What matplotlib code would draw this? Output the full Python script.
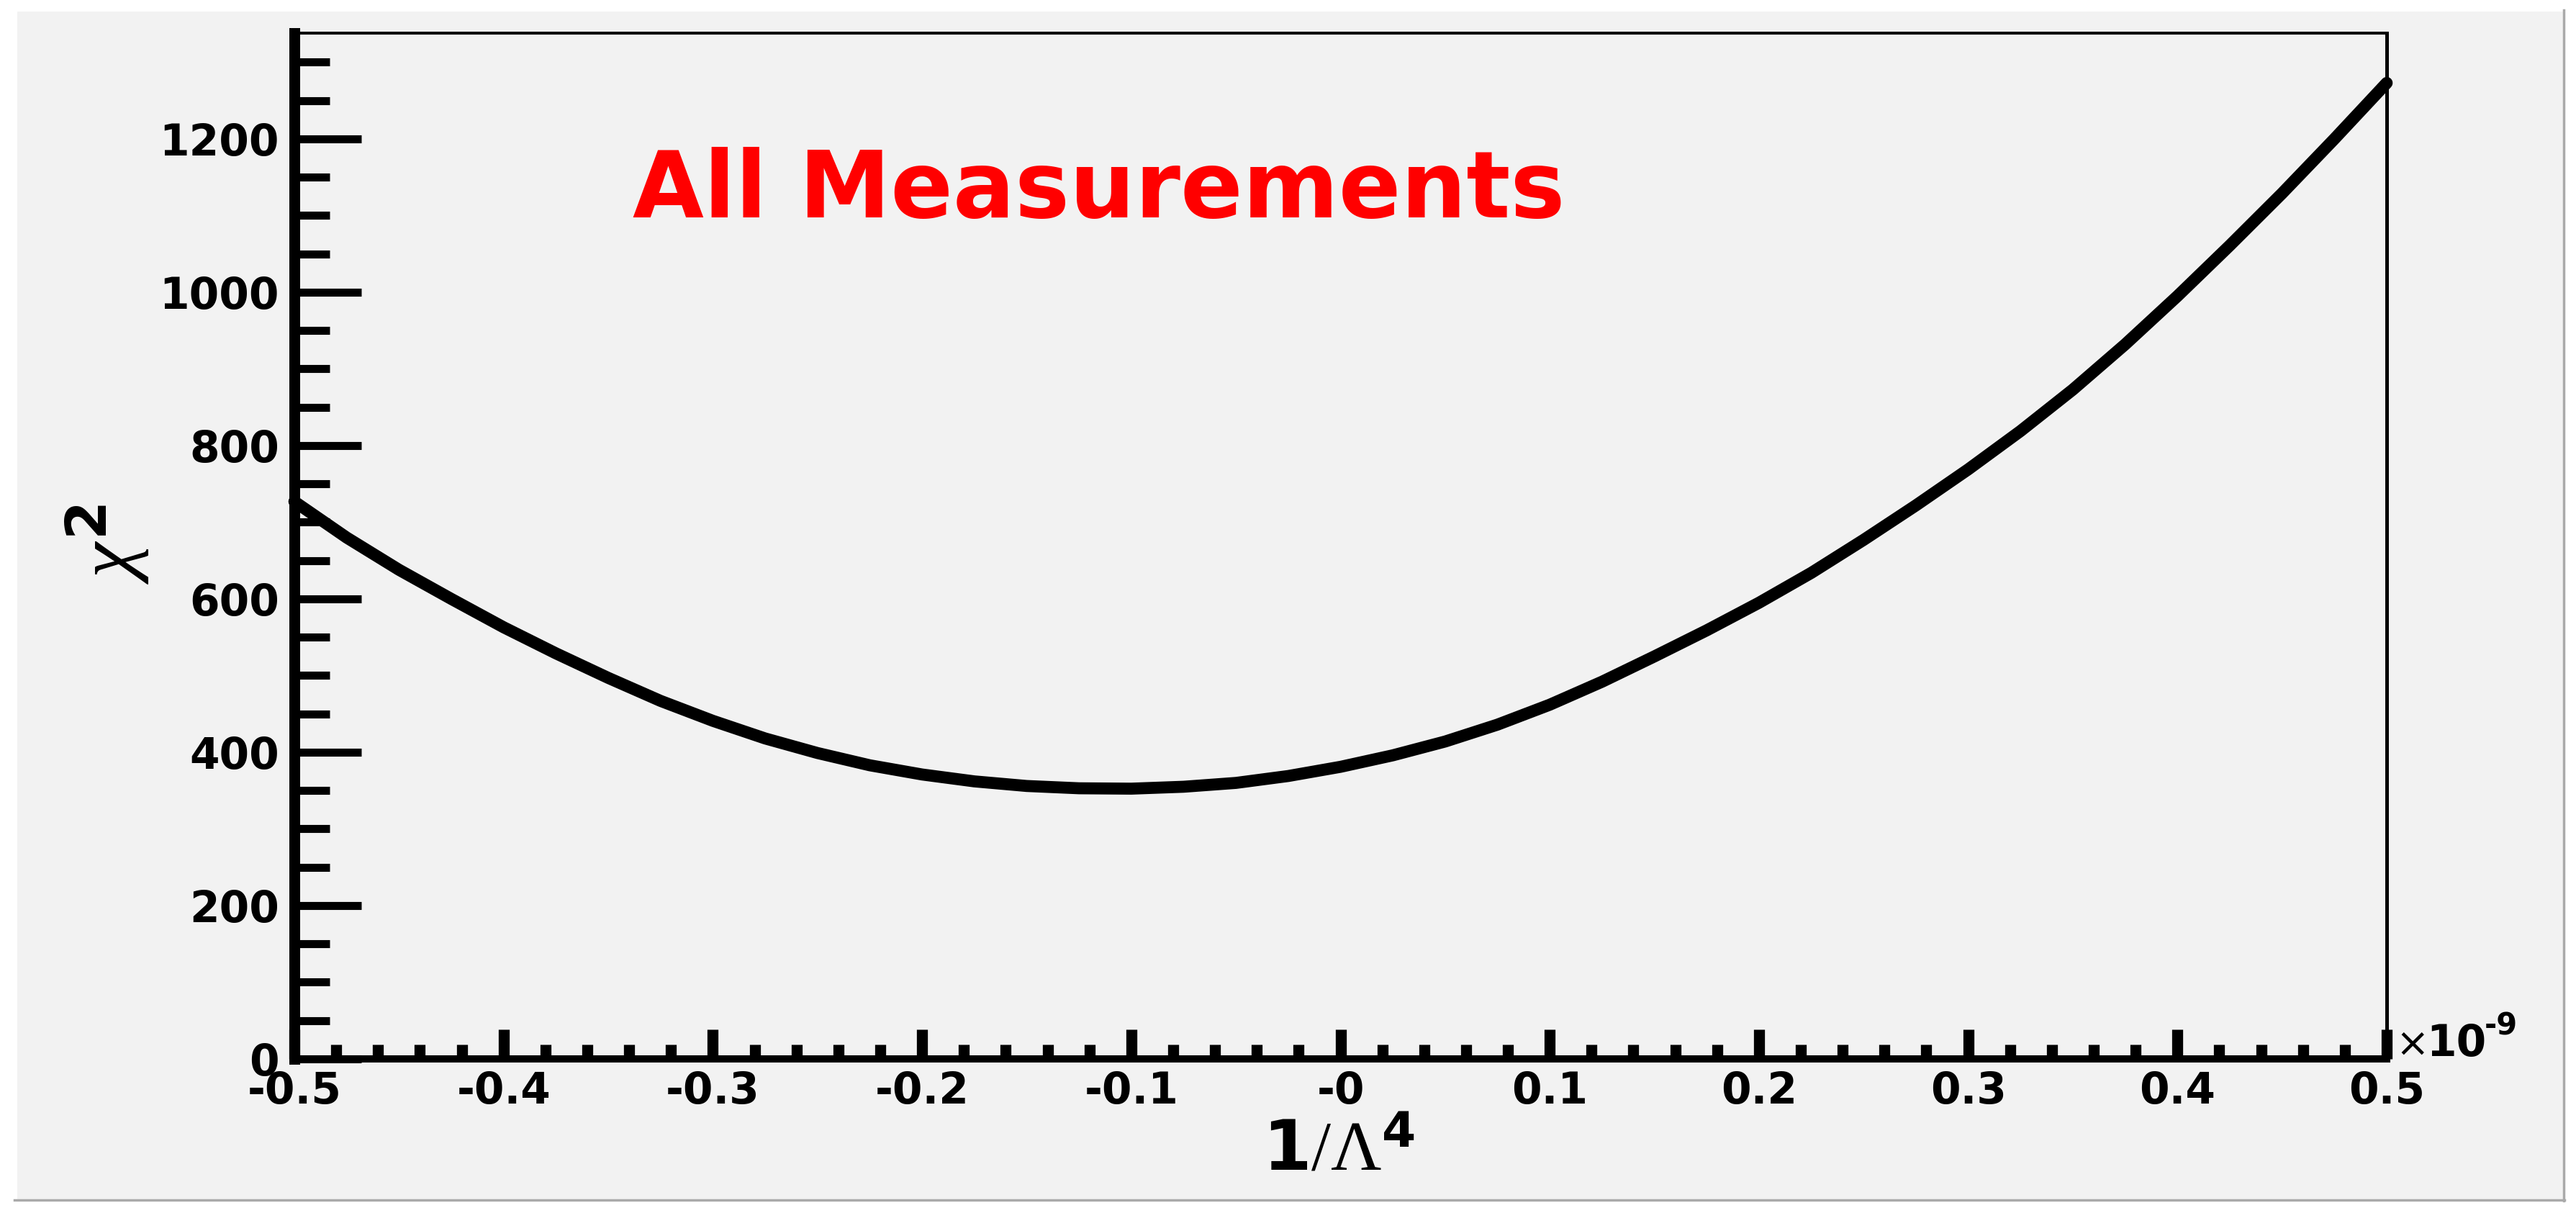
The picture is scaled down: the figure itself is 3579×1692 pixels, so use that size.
import matplotlib
matplotlib.use('Agg')
import matplotlib.pyplot as plt
from matplotlib.ticker import MultipleLocator, FixedLocator
from matplotlib.patches import Rectangle
from matplotlib.lines import Line2D

#
#  Data (x in units of 1e-9)
#
inv_lambda4 = [-0.500, -0.475, -0.450, -0.425, -0.400, -0.375, -0.350, -0.325,
               -0.300, -0.275, -0.250, -0.225, -0.200, -0.175, -0.150, -0.125,
               -0.100, -0.075, -0.050, -0.025, 0.000, 0.025, 0.050, 0.075,
               0.100, 0.125, 0.150, 0.175, 0.200, 0.225, 0.250, 0.275,
               0.300, 0.325, 0.350, 0.375, 0.400, 0.425, 0.450, 0.475, 0.500]
chi2 = [727, 680, 638, 600, 563, 529, 497, 467,
        441, 418, 399, 383, 371, 362, 356, 353,
        352.5, 355, 360, 369, 381, 396, 414, 436,
        462, 492, 525, 559, 595, 634, 677, 722,
        769, 819, 873, 932, 995, 1061, 1129, 1200, 1273]

xtick_vals = [-0.5, -0.4, -0.3, -0.2, -0.1, 0.0, 0.1, 0.2, 0.3, 0.4, 0.5]
xtick_labels = ['-0.5', '-0.4', '-0.3', '-0.2', '-0.1', '-0',
                '0.1', '0.2', '0.3', '0.4', '0.5']

title = 'All Measurements'

plt.rcParams.update({
    'font.family': ['DejaVu Sans'],
    'font.weight': 'bold',
    'mathtext.fontset': 'custom',
    'mathtext.rm': 'Liberation Serif:style=normal:weight=regular',
    'mathtext.it': 'Liberation Serif:style=italic:weight=regular',
    'mathtext.sf': 'DejaVu Sans:weight=bold',
})

W, H = 3579, 1692
fig = plt.figure(figsize=(W / 100, H / 100), dpi=100)
fig.patch.set_facecolor('white')

# grey pad with a darker edge on the right and bottom
fig.patches.append(Rectangle((24 / W, 1 - 1667 / H), (3562 - 24) / W, (1667 - 16) / H,
                             transform=fig.transFigure, facecolor='#f2f2f2',
                             edgecolor='none', zorder=-10))
fig.add_artist(Line2D([20 / W, 3563 / W], [1 - 1667 / H, 1 - 1667 / H],
                      color='#aaaaaa', lw=2.5, transform=fig.transFigure, zorder=-5))
fig.add_artist(Line2D([3562 / W, 3562 / W], [1 - 1668 / H, 1 - 14 / H],
                      color='#aaaaaa', lw=2.5, transform=fig.transFigure, zorder=-5))

ax = fig.add_axes([409 / W, 1 - 1471 / H, (3316 - 409) / W, (1471 - 46) / H])
ax.set_zorder(1)
ax.set_facecolor('#f2f2f2')

ax.plot(inv_lambda4, chi2, color='black', lw=12, solid_capstyle='round',
        solid_joinstyle='round', clip_on=False, zorder=3)

ax.set_xlim(-0.5, 0.5)
ax.set_ylim(0, 1338)

ax.spines['left'].set_linewidth(10.8)
ax.spines['bottom'].set_linewidth(7.2)
ax.spines['top'].set_linewidth(2.9)
ax.spines['right'].set_linewidth(3.6)

ax.xaxis.set_major_locator(FixedLocator(xtick_vals))
ax.set_xticklabels(xtick_labels)
ax.xaxis.set_minor_locator(MultipleLocator(0.02))
ax.yaxis.set_major_locator(MultipleLocator(200))
ax.yaxis.set_minor_locator(MultipleLocator(50))

ax.tick_params(which='both', direction='in', top=False, right=False, color='black')
ax.tick_params(axis='y', which='major', length=67, width=8, pad=15, labelsize=43)
ax.tick_params(axis='y', which='minor', length=35, width=8)
ax.tick_params(axis='x', which='major', length=29.5, width=11, pad=11.5, labelsize=43)
ax.tick_params(axis='x', which='minor', length=14.4, width=11)

# texts
fig.text(1527 / W, 1 - 302 / H, title, color='red', fontsize=92,
         fontweight='bold', ha='center', va='baseline')
fig.text(1860 / W, 1 - 1625 / H, r'$\mathsf{1}/\Lambda^{\mathsf{4}}$',
         fontsize=70, ha='center', va='baseline')
fig.text(150 / W, 1 - 755 / H, r'$\chi^{\mathsf{2}}$', fontsize=80,
         rotation=90, ha='center', va='center')

# exponent of the x axis
fig.text(3328 / W, 1 - 1467 / H, '\u00d7', fontsize=40, fontweight='normal',
         ha='left', va='baseline')
fig.text(3371 / W, 1 - 1467 / H, '10', fontsize=43, ha='left', va='baseline')
fig.text(3452 / W, 1 - 1437 / H, '-9', fontsize=30, ha='left', va='baseline')

fig.savefig('out.png', dpi=100, facecolor=fig.get_facecolor())
